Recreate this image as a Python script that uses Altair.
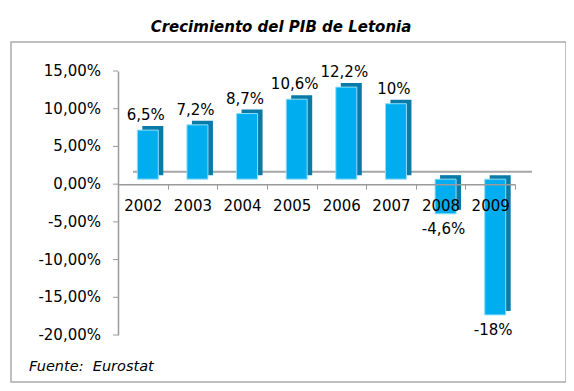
import altair as alt
import pandas as pd

years = ["2002", "2003", "2004", "2005", "2006", "2007", "2008", "2009"]
growth = [6.5, 7.2, 8.7, 10.6, 12.2, 10.0, -4.6, -18.0]
labels = ["6,5%", "7,2%", "8,7%", "10,6%", "12,2%", "10%", "-4,6%", "-18%"]
y_ticks = [-20.0, -15.0, -10.0, -5.0, 0.0, 5.0, 10.0, 15.0]
title_text = ["Crecimiento del PIB de Letonia"]
source_text = ["Fuente:\u00a0 Eurostat"]

df = pd.DataFrame({"year": years, "growth": growth, "label": labels})
df["sign"] = ["pos" if g >= 0 else "neg" for g in growth]
ticks_df = pd.DataFrame({"growth": y_ticks})

W, H = 397, 264
FONT = "DejaVu Sans"
FRONT = "#00AEEF"
DARK = "#0A7AA6"
AXIS_GRAY = "#9A9A9A"

x_enc = alt.X(
    "year:N", sort=years,
    scale=alt.Scale(paddingInner=0, paddingOuter=0),
    axis=alt.Axis(
        title=None, labelAngle=0, offset=-150.86, tickBand="extent",
        domainColor=AXIS_GRAY, tickColor=AXIS_GRAY, tickSize=5, domainWidth=1.5,
        labelFont=FONT, labelFontSize=15, labelColor="#000", labelPadding=9,
        labelOverlap=False, zindex=1,
    ),
)
y_scale = alt.Scale(domain=[-20, 15], nice=False, zero=False)
y_enc = alt.Y(
    "growth:Q", scale=y_scale,
    axis=alt.Axis(
        title=None, grid=False, labels=False, ticks=False,
        domainColor=AXIS_GRAY, domainWidth=1.5, zindex=0,
    ),
)

base = alt.Chart(df)

frame = alt.Chart(pd.DataFrame({"t": ["frame"]})).mark_rect(
    fill="white", fillOpacity=0, stroke="#ABABAB", strokeWidth=1.5
).encode(x=alt.value(-107), x2=alt.value(448), y=alt.value(-29), y2=alt.value(311))

back_line = alt.Chart(pd.DataFrame({"t": ["wall"]})).mark_rule(
    color="#A6A6A6", strokeWidth=2, yOffset=-12.5
).encode(y=alt.datum(0), x=alt.value(15), x2=alt.value(414))

dark = base.mark_bar(
    color=DARK, size=21, xOffset=10, yOffset=-9, y2Offset=-9
).encode(x=x_enc, y=y_enc, y2=alt.datum(0))

front = base.mark_bar(
    color=FRONT, size=21, xOffset=5, yOffset=-5, y2Offset=-5,
    stroke="#8FDDF8", strokeWidth=1
).encode(x=x_enc, y=y_enc, y2=alt.datum(0))

pos_labels = base.transform_filter("datum.sign == 'pos'").mark_text(
    font=FONT, fontSize=15, color="#000", baseline="bottom", dx=3, dy=-12
).encode(x=x_enc, y=y_enc, text="label:N")

neg_labels = base.transform_filter("datum.sign == 'neg'").mark_text(
    font=FONT, fontSize=15, color="#000", baseline="top", dx=3, dy=3
).encode(x=x_enc, y=y_enc, text="label:N")

y_tick_marks = alt.Chart(ticks_df).mark_rule(
    color=AXIS_GRAY, strokeWidth=1
).encode(y=y_enc, x=alt.value(-5), x2=alt.value(0))

y_tick_labels = alt.Chart(ticks_df).transform_calculate(
    tl="(datum.growth < 0 ? '-' : '') + replace(format(abs(datum.growth), '.2f'), '.', ',') + '%'"
).mark_text(
    font=FONT, fontSize=15, color="#000", align="right", baseline="middle"
).encode(y=y_enc, x=alt.value(-17), text="tl:N")

title = alt.Chart(pd.DataFrame({"t": title_text})).mark_text(
    font=FONT, fontSize=15, fontWeight="bold", fontStyle="italic", color="#000",
    align="center", baseline="middle"
).encode(x=alt.value(163), y=alt.value(-44), text="t:N")

source = alt.Chart(pd.DataFrame({"t": source_text})).mark_text(
    font=FONT, fontSize=14.5, fontStyle="italic", color="#000",
    align="left", baseline="middle"
).encode(x=alt.value(-89), y=alt.value(296), text="t:N")

chart = alt.layer(
    frame, back_line, dark, front, pos_labels, neg_labels,
    y_tick_marks, y_tick_labels, title, source
).properties(
    width=W, height=H,
    autosize=alt.AutoSizeParams(type="none"),
    padding={"left": 110, "top": 63, "right": 51, "bottom": 48},
).configure(background="white").configure_view(stroke=None)

chart.save("out.html", embed_options={"renderer": "svg", "actions": False})
